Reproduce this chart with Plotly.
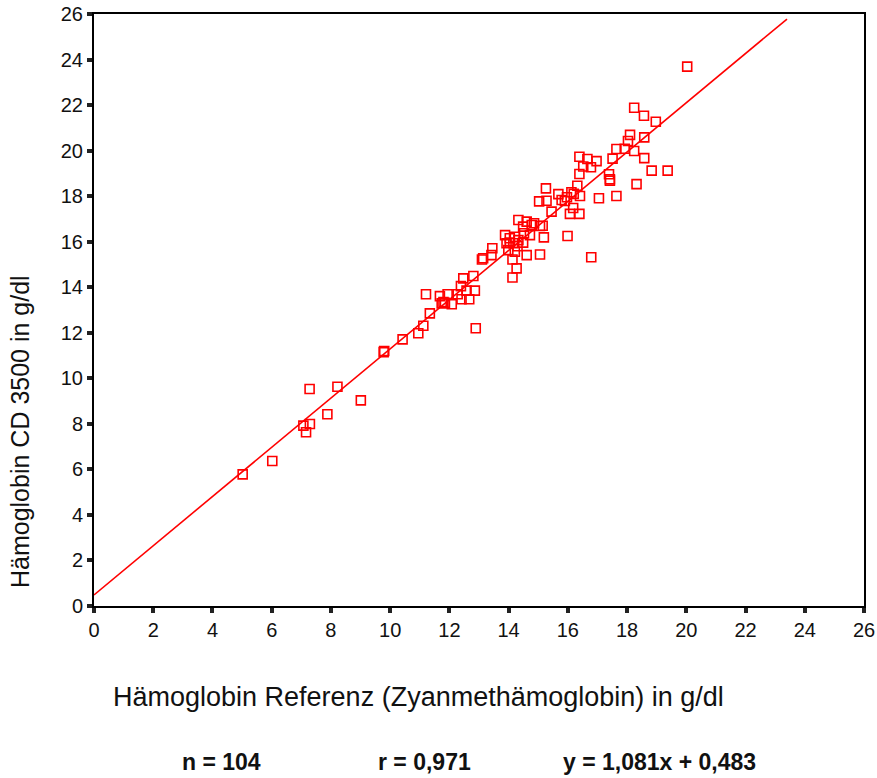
import plotly.graph_objects as go

ref_x = [5.02, 6.02, 7.07, 7.29, 7.16, 7.28, 7.88, 8.22, 9.01, 9.80, 9.78,
         10.42, 10.95, 11.12, 11.34, 11.21, 11.68, 11.74, 11.94, 11.85, 12.08,
         12.28, 12.41, 12.39, 12.47, 12.81, 12.86, 12.67, 12.89, 13.14, 13.10,
         13.45, 13.42, 13.88, 14.04, 13.99, 14.04, 14.16, 14.33, 14.33, 14.49,
         14.52, 14.49, 14.21, 14.13, 14.27, 14.13, 14.61, 15.06, 14.78, 15.06,
         15.19, 14.72, 15.03, 15.28, 15.45, 13.93, 14.21, 14.61, 14.86, 15.26,
         15.68, 15.97, 16.12, 16.32, 16.41, 15.79, 15.90, 16.18, 16.07, 16.39,
         15.99, 16.79, 17.05, 17.64, 16.39, 16.52, 16.78, 16.39, 16.66, 16.97,
         17.39, 17.42, 17.42, 17.51, 17.64, 17.92, 18.24, 18.58, 18.03, 18.10,
         18.58, 18.24, 18.57, 18.97, 18.83, 19.37, 18.32, 20.03, 12.58, 11.80,
         14.30, 15.15, 16.20]
cd_y = [5.78, 6.37, 7.92, 7.99, 7.63, 9.53, 8.42, 9.63, 9.03, 11.20, 11.15,
        11.71, 11.98, 12.31, 12.85, 13.69, 13.61, 13.29, 13.69, 13.32, 13.25,
        13.69, 13.47, 14.05, 14.39, 14.49, 13.85, 13.47, 12.20, 15.27, 15.22,
        15.71, 15.41, 16.29, 16.15, 15.63, 15.96, 15.93, 16.07, 16.95, 16.66,
        16.37, 15.96, 15.56, 15.22, 14.83, 14.43, 15.41, 15.44, 16.73, 16.69,
        16.19, 16.29, 17.77, 17.80, 17.32, 15.93, 16.22, 16.88, 16.81, 18.34,
        18.09, 17.95, 18.17, 18.46, 18.01, 17.83, 17.79, 17.48, 17.22, 17.22,
        16.25, 15.32, 17.91, 18.01, 18.97, 19.30, 19.27, 19.73, 19.63, 19.54,
        18.96, 18.74, 18.68, 19.65, 20.07, 20.08, 19.98, 19.67, 20.42, 20.69,
        20.58, 21.88, 21.53, 21.27, 19.12, 19.12, 18.53, 23.69, 13.85, 13.35,
        15.80, 16.70, 18.10]

slope = 1.081
intercept = 0.483
fit_x = [0, 23.4]
fit_y = [slope * v + intercept for v in fit_x]

tick_vals = list(range(0, 27, 2))
stats = ["n = 104", "r = 0,971", "y = 1,081x + 0,483"]

font_family = "Liberation Sans, Arial, sans-serif"

fig = go.Figure()
fig.add_trace(go.Scatter(x=fit_x, y=fit_y, mode="lines",
                         line=dict(color="#ff0000", width=1.6),
                         showlegend=False, hoverinfo="skip"))
fig.add_trace(go.Scatter(x=ref_x, y=cd_y, mode="markers",
                         marker=dict(symbol="square-open", size=9,
                                     color="#ff0000",
                                     line=dict(color="#ff0000", width=1.6)),
                         showlegend=False, cliponaxis=False))

axis_common = dict(range=[0, 26], tickvals=tick_vals, automargin=False,
                   showgrid=False, zeroline=False,
                   showline=True, linecolor="black", linewidth=2, mirror=True,
                   ticks="outside", ticklen=5, tickwidth=4, tickcolor="#222",
                   tickfont=dict(family=font_family, size=20, color="#111"))

fig.update_xaxes(**axis_common)
fig.update_yaxes(**axis_common)

annotations = [
    dict(text="Hämoglobin Referenz (Zyanmethämoglobin) in g/dl",
         x=0.421, y=-0.154, xref="paper", yref="paper",
         showarrow=False, xanchor="center", yanchor="middle",
         font=dict(family=font_family, size=27, color="#111")),
    dict(text="Hämoglobin CD 3500 in g/dl",
         x=-0.096, y=0.294, xref="paper", yref="paper", textangle=-90,
         showarrow=False, xanchor="center", yanchor="middle",
         font=dict(family=font_family, size=25, color="#111")),
]
stat_x = [0.165, 0.4286, 0.735]
for t, sx in zip(stats, stat_x):
    annotations.append(dict(text="<b>" + t + "</b>", x=sx, y=-0.2635,
                            xref="paper", yref="paper", showarrow=False,
                            xanchor="center", yanchor="middle",
                            font=dict(family=font_family, size=23, color="#111")))

fig.update_layout(width=877, height=778,
                  margin=dict(l=94, r=13, t=14, b=172, autoexpand=False),
                  plot_bgcolor="white", paper_bgcolor="white",
                  annotations=annotations)

fig.write_html("out.html",
               config={"displayModeBar": False},
               post_script="document.body.style.margin='0px';"
                           "document.body.style.overflow='hidden';")
